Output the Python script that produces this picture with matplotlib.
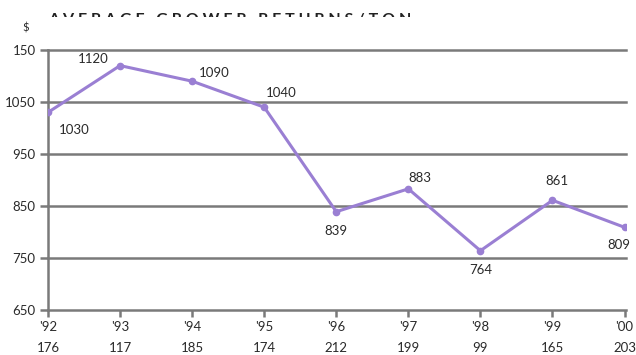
import matplotlib.pyplot as plt
from matplotlib.transforms import Bbox

years = ["'92", "'93", "'94", "'95", "'96", "'97", "'98", "'99", "'00"]
counts = ["176", "117", "185", "174", "212", "199", "99", "165", "203"]
returns = [1030, 1120, 1090, 1040, 839, 883, 764, 861, 809]
ytick_vals = [650, 750, 850, 950, 1050, 1150]
ytick_labels = ["650", "750", "850", "950", "1050", "150"]

plt.rcParams['font.family'] = ['Lato', 'DejaVu Sans']
txt = '#2a2a2a'
grid = '#7a7a7a'
purple = '#9a7fd3'

fig = plt.figure(figsize=(6.36, 3.55), dpi=100)
ax = fig.add_axes([48 / 636, 45 / 355, 578 / 636, 260 / 355])

x = list(range(len(years)))
ax.plot(x, returns, color=purple, lw=2.2, marker='o', ms=4.5, zorder=3)

# value labels: offset in points and alignment
offsets = [(8, -13), (-8, 5), (5, 6), (1, 10), (0, -14), (0, 8), (0, -14), (3, 14), (-4, -13)]
aligns = ['left', 'right', 'left', 'left', 'center', 'left', 'center', 'center', 'center']
for xi, v, (dx, dy), ha in zip(x, returns, offsets, aligns):
    ax.annotate(str(v), (xi, v), xytext=(dx, dy), textcoords='offset points',
                ha=ha, va='center', fontsize=9.5, color=txt)

ax.set_xlim(0, 8.02)
ax.set_ylim(650, 1150)
ax.set_yticks(ytick_vals)
ax.set_yticklabels(ytick_labels)
ax.set_xticks(x)
ax.set_xticklabels([f"{y}\n{c}" for y, c in zip(years, counts)], linespacing=1.9)

for v in ytick_vals:
    ax.axhline(v, color=grid, lw=1.8, zorder=1, clip_on=False)

for s in ['top', 'right', 'bottom']:
    ax.spines[s].set_visible(False)
ax.spines['left'].set_color(grid)
ax.spines['left'].set_linewidth(1.8)

ax.tick_params(axis='y', length=6, width=1.8, color=grid, pad=3, labelsize=9.5, labelcolor=txt)
ax.tick_params(axis='x', length=5, width=1.8, color=grid, pad=3, labelsize=9.5, labelcolor=txt)

fig.text(22 / 636, 1 - 28 / 355, '$', fontsize=8, color=txt, ha='left', va='center')

title = fig.text(48 / 636, 1 - 20 / 355, 'A V E R A G E   G R O W E R   R E T U R N S / T O N',
                 fontsize=11.5, fontweight='bold', color='#222222', ha='left', va='center')
title.set_clip_box(Bbox.from_extents(0, 355 - 17, 636, 355))
title.set_clip_on(True)

fig.savefig('out.png', dpi=100)
